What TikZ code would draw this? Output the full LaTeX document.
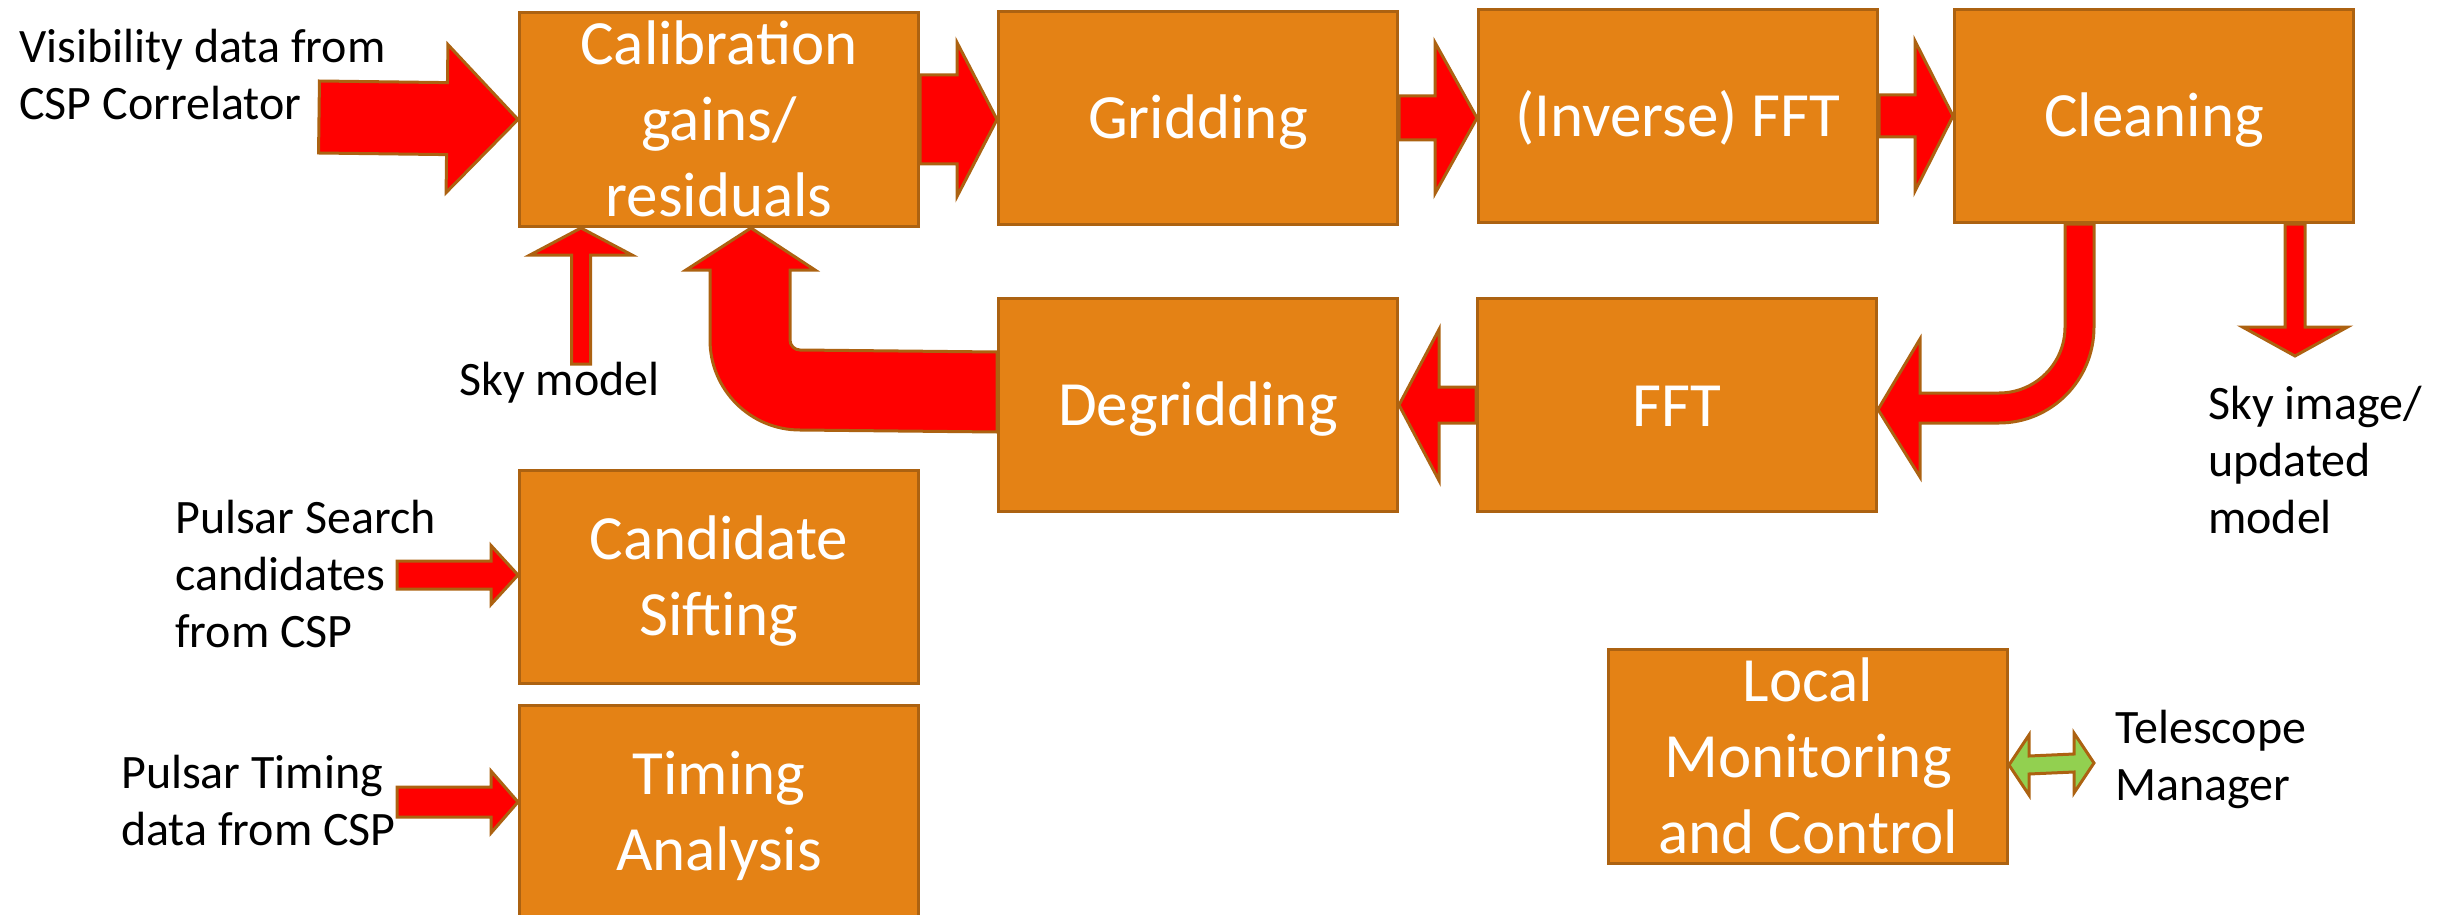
\documentclass[tikz,border=0pt]{standalone}
\usepackage{fontspec}
\setmainfont{Carlito}
\usetikzlibrary{calc}

\definecolor{boxfill}{RGB}{228,130,21}
\definecolor{edge}{RGB}{172,98,17}
\definecolor{arrowred}{RGB}{255,0,0}
\definecolor{linkgreen}{RGB}{146,208,80}

% every line of a stage label gets the same strut, so the text sits evenly
\newcommand\bxl[1]{\rule[-10pt]{0pt}{62pt}#1}

% straight block arrow: [style]{start}{tip}{half shaft}{half head}{head length}
\newcommand\blockarrow[6][]{%
  \coordinate (ba) at ($(#3)!#6!(#2)$);
  \draw[blockarrow,#1] ($(#2)!#4!90:(#3)$) -- ($(ba)!#4!90:(#3)$) -- ($(ba)!#5!90:(#3)$)
    -- (#3) -- ($(ba)!#5!-90:(#3)$) -- ($(ba)!#4!-90:(#3)$) -- ($(#2)!#4!-90:(#3)$) -- cycle;
}

\tikzset{
  stage/.style={draw=edge, fill=boxfill, line width=3pt, minimum width=399pt,
    minimum height=213pt, inner sep=0pt, text=white,
    font=\fontsize{63}{76}\selectfont, align=center, anchor=north west},
  blockarrow/.style={draw=edge, fill=arrowred, line width=3pt, line join=miter},
  % anchored on the baseline of the last line
  lbl/.style={font=\fontsize{48}{57}\selectfont, align=left, anchor=base west, inner sep=0pt},
}

\begin{document}
\begin{tikzpicture}[x=1pt,y=-1pt]
\useasboundingbox (0,0) rectangle (2450,915);

% processing stages
\node[stage] (cal)    at (518,11)   {\bxl{Calibration}\\\bxl{gains/}\\\bxl{residuals}};
\node[stage] (grid)   at (997,10)   {\bxl{Gridding}};
\node[stage] (ifft)   at (1477,8)   {\bxl{(Inverse) FFT}};
\node[stage] (clean)  at (1953,8)   {\bxl{Cleaning}};
\node[stage] (degrid) at (997,297)  {\bxl{Degridding}};
\node[stage] (fft)    at (1476,297) {\bxl{FFT}};
\node[stage] (cand)   at (518,469)  {\bxl{Candidate}\\\bxl{Sifting}};
\node[stage] (timing) at (518,704)  {\bxl{Timing}\\\bxl{Analysis}};
\node[stage] (lmc)    at (1607,648) {\bxl{Local}\\\bxl{Monitoring}\\\bxl{and Control}};

% external labels
\node[lbl] (vislbl)   at (19,120)   {Visibility data from\\CSP Correlator};
\node[lbl] (skymlbl)  at (459,395)  {Sky model};
\node[lbl] (skyilbl)  at (2208,533) {Sky image/\\updated\\model};
\node[lbl] (psrlbl)   at (175,647)  {Pulsar Search\\candidates\\from CSP};
\node[lbl] (ptlbl)    at (121,845)  {Pulsar Timing\\data from CSP};
\node[lbl] (tmlbl)    at (2115,800) {Telescope\\Manager};

% free ends of the data flows
\coordinate (visin)  at (319,117);
\coordinate (skyin)  at (581,364);
\coordinate (skyout) at (2295,356);
\coordinate (psin)   at (397,575);
\coordinate (ptin)   at (397,802);
\coordinate (tmend)  at (2094,763);

% imaging pipeline
\blockarrow{visin}{cal.west}{36pt}{74pt}{71pt}
\blockarrow{cal.east}{cal.east -| grid.west}{44.5pt}{77pt}{40pt}
\blockarrow{grid.east}{grid.east -| ifft.west}{22pt}{75.5pt}{42pt}
\blockarrow{ifft.east}{ifft.east -| clean.west}{21pt}{75pt}{38pt}
\blockarrow{fft.west}{fft.west -| degrid.east}{18pt}{75.5pt}{40pt}
\blockarrow{skyin}{$(cal.south west)+(63,0)$}{9.5pt}{51pt}{27pt}
\blockarrow{$(clean.south west)+(342,0)$}{skyout}{10pt}{52.5pt}{29pt}

% pulsar inputs
\blockarrow{psin}{psin -| cand.west}{14pt}{29.5pt}{27pt}
\blockarrow{ptin}{ptin -| timing.west}{15pt}{31pt}{27pt}

% cleaning loops back into the FFT
\draw[blockarrow] ($(clean.south west)+(112,0)$) -- ($(clean.south west)+(141,0)$)
  -- (2094,327) .. controls (2094,380) and (2051.5,423) .. (1999,423)
  -- (1920,423) -- (1920,477) -- ($(fft.east)+(0,4.5)$) -- (1920,339) -- (1920,393)
  -- (1999,393) .. controls (2035.5,393) and (2065,363.5) .. (2065,327) -- cycle;

% degridded model back to calibration
\draw[blockarrow] ($(degrid.west)+(0,-53)$) -- (800,350)
  .. controls (794.5,350) and (790,345.5) .. (790,340)
  -- (790,270) -- (815,270) -- ($(cal.south west)+(233,0)$) -- (686,270) -- (710,270)
  -- (710,340) .. controls (710,389.7) and (750.3,430) .. (800,430)
  -- ($(degrid.west)+(0,27)$) -- cycle;

% monitoring link to the telescope manager
\coordinate (tmstart) at ($(lmc.east)+(0,8.5)$);
\draw[blockarrow, fill=linkgreen] (tmstart) -- ($(tmstart)+(20,-30)$) -- ($(tmstart)+(20,-9)$)
  -- ($(tmend)+(-20,-9)$) -- ($(tmend)+(-20,-30)$) -- (tmend) -- ($(tmend)+(-20,30)$)
  -- ($(tmend)+(-20,9)$) -- ($(tmstart)+(20,9)$) -- ($(tmstart)+(20,30)$) -- cycle;
\end{tikzpicture}
\end{document}
